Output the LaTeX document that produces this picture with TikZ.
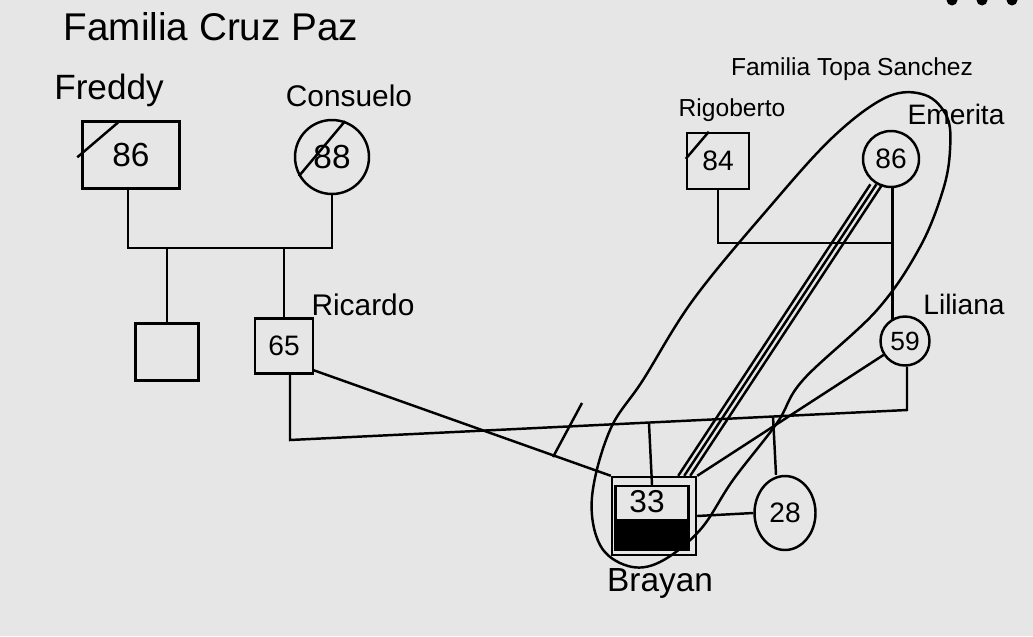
\documentclass[tikz,border=0pt]{standalone}
\usepackage{fontspec}
\setmainfont{Liberation Sans}
\usetikzlibrary{calc,shapes.geometric}
\definecolor{papel}{RGB}{230,230,230}
\begin{document}
\begin{tikzpicture}[x=0.02cm, y=-0.02cm, line width=1.4pt,
    hombre/.style={draw, rectangle, inner sep=0pt},
    mujer/.style={draw, circle, inner sep=0pt},
    edad/.style={font=\fontsize{16}{19}\selectfont},
    nombre/.style={inner sep=0pt, font=\fontsize{17}{20}\selectfont}]

    % --- Fondo (hoja) ---
    \fill[papel] (0,0) rectangle (1033,636);
    \useasboundingbox (0,0) rectangle (1033,636);
    \foreach \x in {952,982,1012} \fill (\x,0) circle[radius=0.11cm];

    % --- FAMILIA CRUZ PAZ ---
    \node[nombre, font=\fontsize{22}{26}\selectfont] (titulo1) at (211,27) {Familia Cruz Paz};

    % Abuelos paternos
    \node[hombre, minimum width=1.94cm, minimum height=1.34cm, edad, font=\fontsize{19}{22}\selectfont] (freddy) at (131,155) {86};
    \draw ([shift={(-4,37)}]freddy.north west) -- ([shift={(37,2)}]freddy.north west);
    \node[nombre, font=\fontsize{20}{24}\selectfont] (nfreddy) at (109,90) {Freddy};

    \node[mujer, minimum size=1.48cm, edad, font=\fontsize{19}{22}\selectfont] (consuelo) at (332,157) {88};
    \draw (consuelo.210) -- (consuelo.70);
    \node[nombre] (nconsuelo) at (349,96) {Consuelo};

    \coordinate (ufc) at (0,248);
    \draw (freddy.south -| 128,0) -- (128,248) -- (consuelo.south |- ufc) -- (consuelo.south);

    % Hijos
    \node[hombre, minimum width=1.26cm, minimum height=1.14cm] (hijo) at (167,352) {};
    \node[hombre, minimum width=1.16cm, minimum height=1.1cm, edad] (ricardo) at (284,346) {65};
    \node[nombre] (nricardo) at (363,305) {Ricardo};
    \draw (hijo.north) -- (hijo.north |- ufc);
    \draw (ricardo.north) -- (ricardo.north |- ufc);

    % --- FAMILIA TOPA SANCHEZ ---
    \node[nombre, font=\fontsize{14}{17}\selectfont] (titulo2) at (852,69) {Familia Topa Sanchez};

    \node[hombre, minimum width=1.24cm, minimum height=1.12cm, edad] (rigoberto) at (718,161) {84};
    \draw ([shift={(0,27)}]rigoberto.north west) -- ([shift={(23,0)}]rigoberto.north west);
    \node[nombre, font=\fontsize{14}{17}\selectfont] (nrigoberto) at (732,110) {Rigoberto};

    \node[mujer, minimum size=1.12cm, edad] (emerita) at (891,159) {86};
    \node[nombre, font=\fontsize{16}{19}\selectfont] (nemerita) at (956,114) {Emerita};

    \node[mujer, minimum size=0.98cm, edad, font=\fontsize{15}{18}\selectfont] (liliana) at (905,341) {59};
    \node[nombre, font=\fontsize{16}{19}\selectfont] (nliliana) at (964,304) {Liliana};

    \draw (rigoberto.south) -- (rigoberto.south |- 0,243) -- (893,243);
    \draw (emerita.south -| liliana.119) -- (liliana.119);

    % --- Pareja Ricardo - Liliana ---
    \coordinate (rl1) at (290,440);
    \coordinate (rl2) at (907,410);
    \draw (290,374) -- (rl1) -- (rl2) -- (liliana.south -| rl2);
    \draw (553,457) -- (582,403);

    % Brayan (paciente identificado)
    \node[hombre, minimum width=1.68cm, minimum height=1.56cm] (brayan) at (654,516) {};
    \node[hombre, minimum width=1.46cm, minimum height=1.28cm] (brayanin) at (652,518) {};
    \fill (brayanin.south west) rectangle ([yshift=0.64cm]brayanin.south east);
    \node[edad, font=\fontsize{18}{21}\selectfont] (n33) at (647,502) {33};
    \node[nombre, font=\fontsize{19}{22}\selectfont] (nbrayan) at (660,583) {Brayan};

    \node[draw, ellipse, inner sep=0pt, minimum width=1.22cm, minimum height=1.48cm, edad] (hermana) at (785,513) {28};

    \draw (brayanin.north) -- ($(rl1)!(brayanin.north)!(rl2)$);
    \draw (hermana.north -| 776,0) -- ($(rl1)!(776,477)!(rl2)$);
    \draw (brayan.east) -- (hermana.west);

    % Relaciones de Brayan
    \draw (313,370) -- (brayan.north west);
    \draw (liliana.213) -- (brayan.north east);
    \coordinate (bt) at ($(brayan.north east)+(-13,0)$);
    \foreach \d in {-6,0,6}
        \draw ([xshift=\d*0.02cm]emerita.240) -- ([xshift=\d*0.02cm]bt);

    % Lazo
    \draw plot[smooth cycle, tension=0.6] coordinates {(592,497) (610,430) (643,380) (693,300) (767,210) (833,137) (887,97) (925,95) (947,117) (950,150) (943,190) (920,247) (877,310) (803,380) (777,423) (733,480) (700,530) (660,562) (628,566) (600,545)};
\end{tikzpicture}
\end{document}
